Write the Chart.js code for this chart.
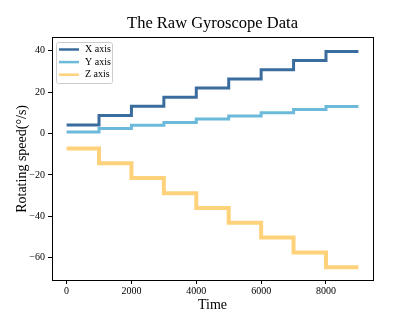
<!DOCTYPE html>
<html>
<head>
<meta charset="utf-8">
<script src="https://cdn.jsdelivr.net/npm/chart.js@4/dist/chart.umd.min.js"></script>
<style>
    html, body { margin: 0; padding: 0; background: #ffffff; }
    #wrap { width: 415px; height: 315px; }
</style>
</head>
<body>
<div id="wrap"><canvas id="gyroChart" width="415" height="315"></canvas></div>
<script>

// step start times (last point closes the final step)
const times = [0, 1000, 2000, 3000, 4000, 5000, 6000, 7000, 8000, 9000]

const xAxisValues = [4.2, 8.7, 13.2, 17.5, 22.0, 26.4, 30.9, 35.3, 39.7, 39.7]
const yAxisValues = [0.8, 2.4, 4.0, 5.4, 7.0, 8.5, 10.1, 11.6, 13.1, 13.1]
const zAxisValues = [-7.2, -14.4, -21.5, -28.9, -36.0, -43.1, -50.3, -57.5, -64.6, -64.6]

const seriesNames = ["X axis", "Y axis", "Z axis"]
const seriesColors = ["#3a6c9e", "#6cbadb", "#fdd27b"]

const xTickValues = [0, 2000, 4000, 6000, 8000]
const yTickValues = [-60, -40, -20, 0, 20, 40]

const serif = "'Liberation Serif', 'DejaVu Serif', serif"

function toPoints(values) {
    return values.map((v, i) => ({ x: times[i], y: v }))
}

// legend box in the upper left of the plot
const innerLegend = {
    id: "innerLegend",
    afterDraw(chart) {
        const { ctx, chartArea: a } = chart
        ctx.save()

        const x = Math.round(a.left) + 4
        const y = Math.round(a.top) + 4
        ctx.fillStyle = "rgba(255,255,255,0.8)"
        ctx.strokeStyle = "#cccccc"
        ctx.lineWidth = 1
        ctx.beginPath()
        ctx.roundRect(x + 0.5, y + 0.5, 56, 41, 2)
        ctx.fill()
        ctx.stroke()

        ctx.font = "10px " + serif
        ctx.textBaseline = "middle"
        chart.data.datasets.forEach((ds, i) => {
            const rowY = y + 7.5 + i * 12.6
            ctx.strokeStyle = ds.borderColor
            ctx.lineWidth = 2.5
            ctx.beginPath()
            ctx.moveTo(x + 3, rowY)
            ctx.lineTo(x + 23, rowY)
            ctx.stroke()
            ctx.fillStyle = "#000000"
            ctx.fillText(ds.label, x + 29, rowY)
        })
        ctx.restore()
    }
}

const minusSign = (v) => String(v).replace("-", "\u2212")

// bare axes used only for the top and right spines
const spine = (position, min, max) => ({
    type: "linear",
    position: position,
    min: min,
    max: max,
    ticks: { display: false },
    grid: { display: false, drawTicks: false },
    border: { display: true, color: "#000000", width: 1 }
})

new Chart(document.getElementById("gyroChart"), {

    type: "line",

    data: {
        datasets: [
            { label: seriesNames[0], data: toPoints(xAxisValues), borderColor: seriesColors[0], borderWidth: 3 },
            { label: seriesNames[1], data: toPoints(yAxisValues), borderColor: seriesColors[1], borderWidth: 3 },
            { label: seriesNames[2], data: toPoints(zAxisValues), borderColor: seriesColors[2], borderWidth: 4 }
        ].map(ds => Object.assign(ds, { stepped: "before", pointRadius: 0, fill: false, tension: 0 }))
    },

    options: {
        responsive: false,
        animation: false,
        layout: {
            padding: { left: 0, right: 42, top: 0, bottom: 0 }
        },
        plugins: {
            legend: { display: false },
            tooltip: { enabled: false },
            title: {
                display: true,
                fullSize: false,
                text: "The Raw Gyroscope Data",
                color: "#000000",
                font: { family: serif, size: 16.5, weight: "normal" },
                padding: { top: 14, bottom: 4 }
            }
        },
        scales: {
            x: {
                type: "linear",
                min: -450,
                max: 9450,
                afterFit(scale) { scale.height = 35 },
                afterBuildTicks(scale) { scale.ticks = xTickValues.map(v => ({ value: v })) },
                grid: { drawOnChartArea: false, drawTicks: true, tickLength: 4, color: "#000000" },
                border: { display: true, color: "#000000", width: 1 },
                ticks: {
                    color: "#000000",
                    padding: 1,
                    maxRotation: 0,
                    font: { family: serif, size: 10 },
                    callback: (v) => minusSign(v)
                },
                title: {
                    display: true,
                    text: "Time",
                    color: "#000000",
                    font: { family: serif, size: 14 },
                    padding: { top: 0, bottom: 1 }
                }
            },
            y: {
                type: "linear",
                min: -70.8,
                max: 46.3,
                afterFit(scale) { scale.width = 52 },
                afterBuildTicks(scale) { scale.ticks = yTickValues.map(v => ({ value: v })) },
                grid: { drawOnChartArea: false, drawTicks: true, tickLength: 4, color: "#000000" },
                border: { display: true, color: "#000000", width: 1 },
                ticks: {
                    color: "#000000",
                    padding: 3,
                    font: { family: serif, size: 10 },
                    callback: (v) => minusSign(v)
                },
                title: {
                    display: true,
                    text: "Rotating speed(°/s)",
                    color: "#000000",
                    font: { family: serif, size: 14 },
                    padding: { top: 14, bottom: 0 }
                }
            },
            xTop: spine("top", -450, 9450),
            yRight: spine("right", -70.8, 46.3)
        }
    },

    plugins: [innerLegend]
})

</script>
</body>
</html>
